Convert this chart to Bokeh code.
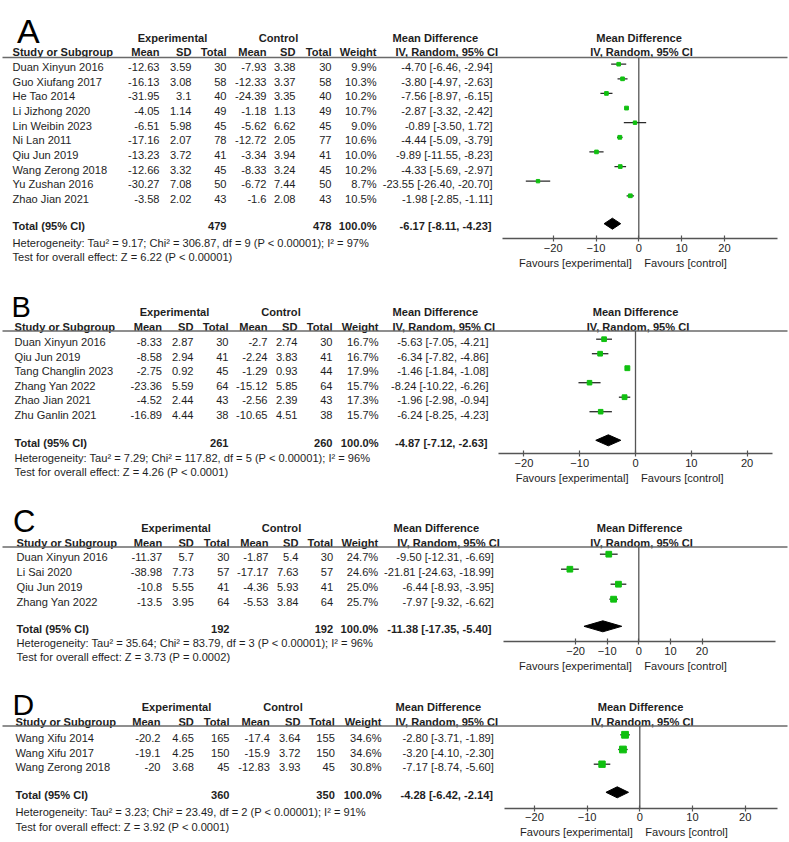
import math
from bokeh.plotting import figure
from bokeh.models import Range1d, LinearAxis, FixedTicker, ColumnDataSource
from bokeh.core.properties import value
from bokeh.embed import file_html
from bokeh.resources import INLINE

# ---------------- DATA ----------------
letters = ["A", "B", "C", "D"]

names_a = ["Duan Xinyun 2016", "Guo Xiufang 2017", "He Tao 2014", "Li Jizhong 2020", "Lin Weibin 2023",
           "Ni Lan 2011", "Qiu Jun 2019", "Wang Zerong 2018", "Yu Zushan 2016", "Zhao Jian 2021"]
exp_mean_a = [-12.63, -16.13, -31.95, -4.05, -6.51, -17.16, -13.23, -12.66, -30.27, -3.58]
exp_sd_a = [3.59, 3.08, 3.1, 1.14, 5.98, 2.07, 3.72, 3.32, 7.08, 2.02]
exp_n_a = [30, 58, 40, 49, 45, 78, 41, 45, 50, 43]
ctl_mean_a = [-7.93, -12.33, -24.39, -1.18, -5.62, -12.72, -3.34, -8.33, -6.72, -1.6]
ctl_sd_a = [3.38, 3.37, 3.35, 1.13, 6.62, 2.05, 3.94, 3.24, 7.44, 2.08]
ctl_n_a = [30, 58, 40, 49, 45, 77, 41, 45, 50, 43]
weight_a = [9.9, 10.3, 10.2, 10.7, 9.0, 10.6, 10.0, 10.2, 8.7, 10.5]
md_a = [-4.70, -3.80, -7.56, -2.87, -0.89, -4.44, -9.89, -4.33, -23.55, -1.98]
lo_a = [-6.46, -4.97, -8.97, -3.32, -3.50, -5.09, -11.55, -5.69, -26.40, -2.85]
hi_a = [-2.94, -2.63, -6.15, -2.42, 1.72, -3.79, -8.23, -2.97, -20.70, -1.11]

names_b = ["Duan Xinyun 2016", "Qiu Jun 2019", "Tang Changlin 2023", "Zhang Yan 2022", "Zhao Jian 2021", "Zhu Ganlin 2021"]
exp_mean_b = [-8.33, -8.58, -2.75, -23.36, -4.52, -16.89]
exp_sd_b = [2.87, 2.94, 0.92, 5.59, 2.44, 4.44]
exp_n_b = [30, 41, 45, 64, 43, 38]
ctl_mean_b = [-2.7, -2.24, -1.29, -15.12, -2.56, -10.65]
ctl_sd_b = [2.74, 3.83, 0.93, 5.85, 2.39, 4.51]
ctl_n_b = [30, 41, 44, 64, 43, 38]
weight_b = [16.7, 16.7, 17.9, 15.7, 17.3, 15.7]
md_b = [-5.63, -6.34, -1.46, -8.24, -1.96, -6.24]
lo_b = [-7.05, -7.82, -1.84, -10.22, -2.98, -8.25]
hi_b = [-4.21, -4.86, -1.08, -6.26, -0.94, -4.23]

names_c = ["Duan Xinyun 2016", "Li Sai 2020", "Qiu Jun 2019", "Zhang Yan 2022"]
exp_mean_c = [-11.37, -38.98, -10.8, -13.5]
exp_sd_c = [5.7, 7.73, 5.55, 3.95]
exp_n_c = [30, 57, 41, 64]
ctl_mean_c = [-1.87, -17.17, -4.36, -5.53]
ctl_sd_c = [5.4, 7.63, 5.93, 3.84]
ctl_n_c = [30, 57, 41, 64]
weight_c = [24.7, 24.6, 25.0, 25.7]
md_c = [-9.50, -21.81, -6.44, -7.97]
lo_c = [-12.31, -24.63, -8.93, -9.32]
hi_c = [-6.69, -18.99, -3.95, -6.62]

names_d = ["Wang Xifu 2014", "Wang Xifu 2017", "Wang Zerong 2018"]
exp_mean_d = [-20.2, -19.1, -20]
exp_sd_d = [4.65, 4.25, 3.68]
exp_n_d = [165, 150, 45]
ctl_mean_d = [-17.4, -15.9, -12.83]
ctl_sd_d = [3.64, 3.72, 3.93]
ctl_n_d = [155, 150, 45]
weight_d = [34.6, 34.6, 30.8]
md_d = [-2.80, -3.20, -7.17]
lo_d = [-3.71, -4.10, -8.74]
hi_d = [-1.89, -2.30, -5.60]

total_exp_n = [479, 261, 192, 360]
total_ctl_n = [478, 260, 192, 350]
total_md = [-6.17, -4.87, -11.38, -4.28]
total_lo = [-8.11, -7.12, -17.35, -6.42]
total_hi = [-4.23, -2.63, -5.40, -2.14]
tau2 = ["9.17", "7.29", "35.64", "3.23"]
chi2 = ["306.87", "117.82", "83.79", "23.49"]
dfs = [9, 5, 3, 2]
i2 = [97, 96, 96, 91]
zval = ["6.22", "4.26", "3.73", "3.92"]
pz = ["P < 0.00001", "P < 0.0001", "P = 0.0002", "P < 0.0001"]
axis_ticks = [-20, -10, 0, 10, 20]

# ---------------- LAYOUT ----------------
FONT = "Liberation Sans"
FS = "11.1px"
TXT = "#1e1e1e"
GREEN = "#10c010"

layouts = [
    dict(lx=16.5, lbase=30, lsize="34px", h1=37, h2=51.7, hline=57, row0=66.7, dy=14.62,
         total=225.7, het=242.3, test=256, axis=238.3, zero=638.3, scale=4.28, bounds=(-31.9, 32.3),
         study=12, cols=[159, 191, 226, 266, 295, 331, 376], exp_c=172, ctl_c=278,
         md_left=392, iv_left=395, md_rc=638.5, iv_rc=641, ci_r=492, tci_r=491),
    dict(lx=11, lbase=306.7, lsize="29px", h1=311, h2=326, hline=330.5, row0=341.7, dy=14.5,
         total=442.3, het=457.7, test=471.7, axis=453.3, zero=635, scale=5.58, bounds=(-24.5, 24.5),
         study=14, cols=[161.5, 193, 228, 267, 297, 332, 378], exp_c=174, ctl_c=280.5,
         md_left=392, iv_left=392, md_rc=635, iv_rc=637.5, ci_r=488, tci_r=487),
    dict(lx=12.5, lbase=521, lsize="31px", h1=527.3, h2=542, hline=546.5, row0=556.7, dy=15,
         total=628.3, het=642.3, test=656, axis=641, zero=638.3, scale=3.16, bounds=(-42.7, 43.3),
         study=16, cols=[161.7, 193.3, 229, 268, 298, 332.7, 377.7], exp_c=175.5, ctl_c=281,
         md_left=393, iv_left=396.7, md_rc=639, iv_rc=641, ci_r=493.3, tci_r=491),
    dict(lx=12, lbase=704.3, lsize="30px", h1=706.7, h2=721, hline=725.5, row0=737.3, dy=14.7,
         total=794.3, het=811.7, test=826, axis=807.7, zero=639.3, scale=5.27, bounds=(-25.7, 26.1),
         study=15, cols=[160, 193.3, 229, 269.3, 300, 334.3, 381], exp_c=176, ctl_c=282.5,
         md_left=395, iv_left=395, md_rc=640, iv_rc=641.7, ci_r=493.3, tci_r=492.5),
]

studies = [
    (names_a, exp_mean_a, exp_sd_a, exp_n_a, ctl_mean_a, ctl_sd_a, ctl_n_a, weight_a, md_a, lo_a, hi_a),
    (names_b, exp_mean_b, exp_sd_b, exp_n_b, ctl_mean_b, ctl_sd_b, ctl_n_b, weight_b, md_b, lo_b, hi_b),
    (names_c, exp_mean_c, exp_sd_c, exp_n_c, ctl_mean_c, ctl_sd_c, ctl_n_c, weight_c, md_c, lo_c, hi_c),
    (names_d, exp_mean_d, exp_sd_d, exp_n_d, ctl_mean_d, ctl_sd_d, ctl_n_d, weight_d, md_d, lo_d, hi_d),
]

W, H = 789, 842
p = figure(width=W, height=H, output_backend="svg", toolbar_location=None,
           x_range=Range1d(0, W), y_range=Range1d(H, 0),
           x_axis_type=None, y_axis_type=None, min_border=0,
           outline_line_color=None, background_fill_color="white", border_fill_color="white")


def txt(xs, ys, texts, align, bold=False, size=FS, baseline="middle", rn="default", xoff=0, color=TXT):
    src = ColumnDataSource(dict(x=list(xs), y=list(ys), t=list(texts)))
    p.text(x="x", y="y", text="t", source=src, text_align=align, text_baseline=baseline,
           text_font=value(FONT), text_font_size=size, text_color=color,
           text_font_style="bold" if bold else "normal", x_range_name=rn, x_offset=xoff)


def fmt(v):
    return f"{v:g}"


for k, (L, S) in enumerate(zip(layouts, studies)):
    names, em, es, en, cm, cs, cn, wt, md, lo, hi = S
    n = len(names)
    ys = [L["row0"] + i * L["dy"] for i in range(n)]

    # panel letter
    txt([L["lx"]], [L["lbase"]], [letters[k]], "left", size=L["lsize"], baseline="alphabetic", color="#000000")

    # headers
    txt([L["exp_c"], L["ctl_c"]], [L["h1"]] * 2, ["Experimental", "Control"], "center", bold=True)
    txt([L["md_left"]], [L["h1"]], ["Mean Difference"], "left", bold=True)
    txt([L["md_rc"]], [L["h1"]], ["Mean Difference"], "center", bold=True)
    txt([L["study"]], [L["h2"]], ["Study or Subgroup"], "left", bold=True)
    txt(L["cols"], [L["h2"]] * 7, ["Mean", "SD", "Total", "Mean", "SD", "Total", "Weight"], "right", bold=True)
    txt([L["iv_left"]], [L["h2"]], ["IV, Random, 95% CI"], "left", bold=True)
    txt([L["iv_rc"]], [L["h2"]], ["IV, Random, 95% CI"], "center", bold=True)
    p.segment(x0=[2], x1=[787], y0=[L["hline"]], y1=[L["hline"]], line_color="#6a6a6a", line_width=1.4)

    # study rows
    txt([L["study"]] * n, ys, names, "left")
    columns = [[fmt(v) for v in em], [fmt(v) for v in es], [str(v) for v in en],
               [fmt(v) for v in cm], [fmt(v) for v in cs], [str(v) for v in cn],
               [f"{v:.1f}%" for v in wt]]
    for j, col in enumerate(columns):
        txt([L["cols"][j]] * n, ys, col, "right")
    txt([L["ci_r"]] * n, ys, [f"{a:.2f} [{b:.2f}, {c:.2f}]" for a, b, c in zip(md, lo, hi)], "right")

    # total row
    ty = L["total"]
    txt([L["study"]], [ty], ["Total (95% CI)"], "left", bold=True)
    txt([L["cols"][2], L["cols"][5], L["cols"][6]], [ty] * 3,
        [str(total_exp_n[k]), str(total_ctl_n[k]), "100.0%"], "right", bold=True)
    txt([L["tci_r"]], [ty], [f"{total_md[k]:.2f} [{total_lo[k]:.2f}, {total_hi[k]:.2f}]"], "right", bold=True)
    txt([L["study"]], [L["het"]],
        [f"Heterogeneity: Tau\u00b2 = {tau2[k]}; Chi\u00b2 = {chi2[k]}, df = {dfs[k]} (P < 0.00001); I\u00b2 = {i2[k]}%"], "left")
    txt([L["study"]], [L["test"]], [f"Test for overall effect: Z = {zval[k]} ({pz[k]})"], "left")

    # forest plot area with its own scale
    rn = "md" + letters[k]
    z0, s = L["zero"], L["scale"]
    p.extra_x_ranges[rn] = Range1d((0 - z0) / s, (W - z0) / s)
    my = [y - 3 for y in ys]
    p.segment(x0=[0], x1=[0], y0=[L["hline"]], y1=[L["axis"]], x_range_name=rn,
              line_color="#555555", line_width=1.3)
    p.segment(x0=lo, x1=hi, y0=my, y1=my, x_range_name=rn, line_color="#2a2a2a", line_width=1.3)
    p.scatter(x=md, y=my, size=[1.15 * math.sqrt(w) for w in wt], marker="square",
              fill_color=GREEN, line_color=GREEN, x_range_name=rn)
    dy_ = ty - 2.5
    hh = 5.5
    p.patch(x=[total_lo[k], total_md[k], total_hi[k], total_md[k]],
            y=[dy_, dy_ - hh, dy_, dy_ + hh], x_range_name=rn,
            fill_color="black", line_color="black")

    ax = LinearAxis(x_range_name=rn, fixed_location=L["axis"], bounds=L["bounds"],
                    ticker=FixedTicker(ticks=axis_ticks))
    ax.axis_line_color = "#555555"
    ax.axis_line_width = 1.3
    ax.major_tick_line_color = "#555555"
    ax.major_tick_line_width = 1.2
    ax.major_tick_in = 3
    ax.major_tick_out = 3
    ax.minor_tick_line_color = None
    ax.major_label_standoff = 2
    ax.major_label_text_font = FONT
    ax.major_label_text_font_size = FS
    ax.major_label_text_color = TXT
    p.add_layout(ax, "below")

    fy = L["axis"] + 24
    txt([0], [fy], ["Favours [experimental]"], "right", rn=rn, xoff=-7)
    txt([0], [fy], ["Favours [control]"], "left", rn=rn, xoff=5.5)

open("out.html", "w").write(file_html(p, INLINE))
